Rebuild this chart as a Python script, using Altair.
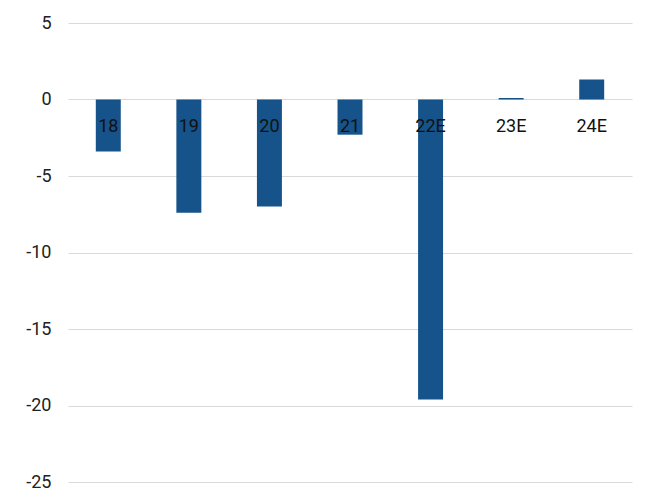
import altair as alt
import pandas as pd

categories = ["18", "19", "20", "21", "22E", "23E", "24E"]
values = [-3.4, -7.4, -7.0, -2.3, -19.6, 0.1, 1.3]

df = pd.DataFrame({"cat": categories, "val": values})

x = alt.X("cat:N", sort=categories, axis=None,
          scale=alt.Scale(paddingInner=0.69, paddingOuter=0.345))

bars = alt.Chart(df).mark_bar(color="#15538A").encode(
    x=x,
    y=alt.Y("val:Q", scale=alt.Scale(domain=[-25, 5], nice=False),
            axis=alt.Axis(values=[5, 0, -5, -10, -15, -20, -25], title=None,
                          domain=False, ticks=False, labelPadding=17,
                          labelExpr="datum.value + ''",
                          labelFont="Roboto", labelFontSize=18, labelColor="#222222",
                          gridColor="#d9d9d9", gridWidth=1)),
)

labels = alt.Chart(df).mark_text(font="Roboto", fontSize=18, color="#111111",
                                 baseline="middle", dy=27).encode(
    x=x,
    y=alt.datum(0),
    text="cat:N",
)

chart = alt.layer(bars, labels).properties(
    width=564, height=459,
    autosize=alt.AutoSizeParams(type="none"),
    padding={"left": 60, "top": 15, "right": 20, "bottom": 14},
).configure_view(stroke=None)

chart.save("out.html", embed_options={"renderer": "svg", "actions": False})
